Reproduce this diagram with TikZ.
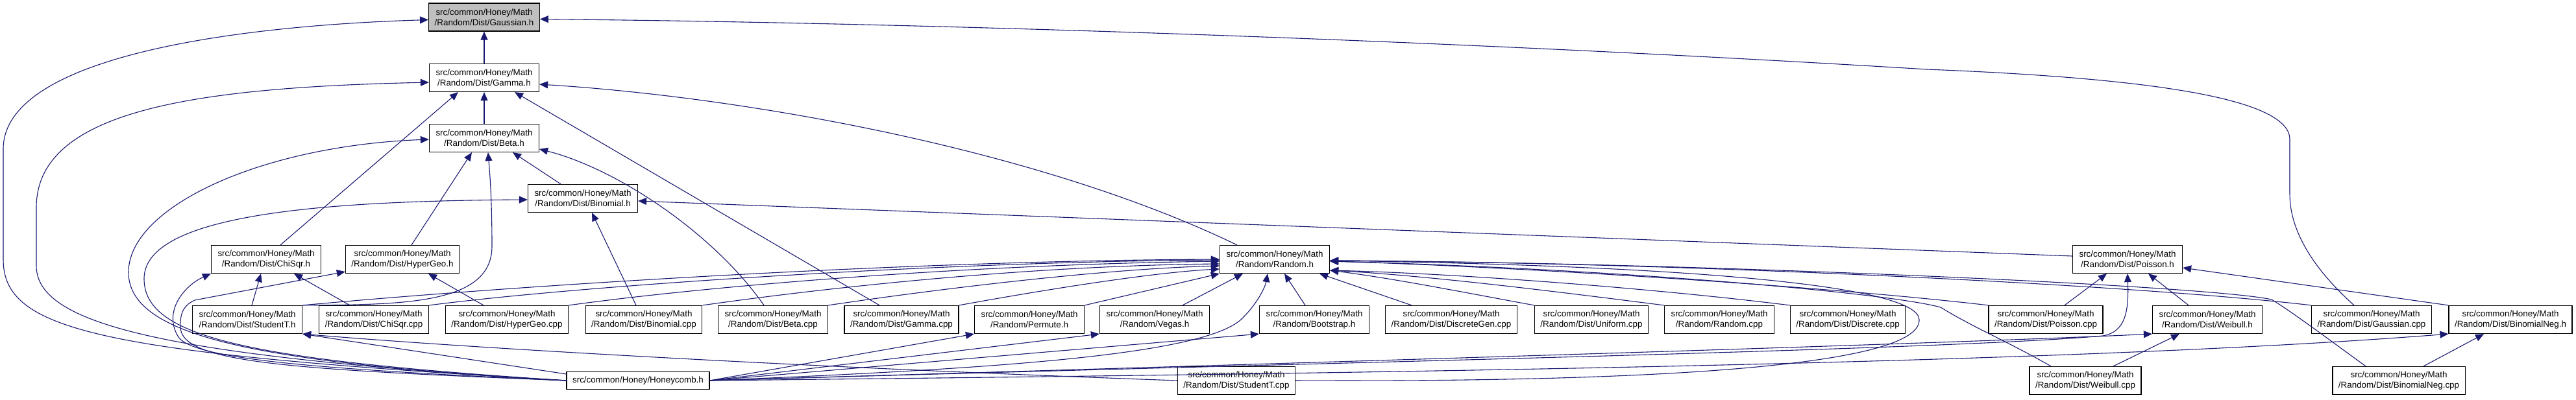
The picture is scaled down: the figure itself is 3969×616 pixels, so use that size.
\documentclass[tikz,border=0pt]{standalone}
\usepackage{fontspec}
\setmainfont{Liberation Sans}
\usetikzlibrary{arrows.meta,calc}
\definecolor{edgeblue}{HTML}{191970}
\definecolor{focusgray}{HTML}{BFBFBF}
\tikzset{
  file/.style={
    rectangle,
    draw=black,
    fill=white,
    line width=1.2pt,
    align=center,
    minimum width=169pt,
    minimum height=43pt,
    inner xsep=9pt,
    inner ysep=2pt,
    font=\fontsize{13.4}{16}\selectfont
  },
  focus/.style={file, fill=focusgray},
  oneline/.style={file, minimum height=27pt},
  incl/.style={-{Triangle[length=13pt,width=11pt]}, line width=1.1pt, draw=edgeblue}
}

\begin{document}
\begin{tikzpicture}[x=1pt,y=-1pt]
  \useasboundingbox (0,0) rectangle (3969,616);
  \node[focus] (gaussh) at (746,26.5) {src/common/Honey/Math\\/Random/Dist/Gaussian.h};
  \node[file] (gammah) at (746,120) {src/common/Honey/Math\\/Random/Dist/Gamma.h};
  \node[file] (betah) at (746,213) {src/common/Honey/Math\\/Random/Dist/Beta.h};
  \node[file] (binomh) at (898,306) {src/common/Honey/Math\\/Random/Dist/Binomial.h};
  \node[file] (chisqrh) at (410,400) {src/common/Honey/Math\\/Random/Dist/ChiSqr.h};
  \node[file] (hypergeoh) at (620,400) {src/common/Honey/Math\\/Random/Dist/HyperGeo.h};
  \node[file] (randomh) at (1964,400) {src/common/Honey/Math\\/Random/Random.h};
  \node[file] (poissonh) at (3278,400) {src/common/Honey/Math\\/Random/Dist/Poisson.h};
  \node[file] (studentth) at (381,493) {src/common/Honey/Math\\/Random/Dist/StudentT.h};
  \node[file] (chisqrcpp) at (576,493) {src/common/Honey/Math\\/Random/Dist/ChiSqr.cpp};
  \node[file] (hypergeocpp) at (781,493) {src/common/Honey/Math\\/Random/Dist/HyperGeo.cpp};
  \node[file] (binomcpp) at (992,493) {src/common/Honey/Math\\/Random/Dist/Binomial.cpp};
  \node[file] (betacpp) at (1191,493) {src/common/Honey/Math\\/Random/Dist/Beta.cpp};
  \node[file] (gammacpp) at (1389,493) {src/common/Honey/Math\\/Random/Dist/Gamma.cpp};
  \node[file] (permuteh) at (1586,493) {src/common/Honey/Math\\/Random/Permute.h};
  \node[file] (vegash) at (1779,493) {src/common/Honey/Math\\/Random/Vegas.h};
  \node[file] (bootstraph) at (2025,493) {src/common/Honey/Math\\/Random/Bootstrap.h};
  \node[file] (discretegencpp) at (2236,493) {src/common/Honey/Math\\/Random/Dist/DiscreteGen.cpp};
  \node[file] (uniformcpp) at (2452,493) {src/common/Honey/Math\\/Random/Dist/Uniform.cpp};
  \node[file] (randomcpp) at (2649,493) {src/common/Honey/Math\\/Random/Random.cpp};
  \node[file] (discretecpp) at (2847,493) {src/common/Honey/Math\\/Random/Dist/Discrete.cpp};
  \node[file] (poissoncpp) at (3152,493) {src/common/Honey/Math\\/Random/Dist/Poisson.cpp};
  \node[file] (weibullh) at (3401,493) {src/common/Honey/Math\\/Random/Dist/Weibull.h};
  \node[file] (gaussiancpp) at (3654,493) {src/common/Honey/Math\\/Random/Dist/Gaussian.cpp};
  \node[file] (binomnegh) at (3868,493) {src/common/Honey/Math\\/Random/Dist/BinomialNeg.h};
  \node[oneline] (honeycomb) at (983,587) {src/common/Honey/Honeycomb.h};
  \node[file] (studenttcpp) at (1905,587) {src/common/Honey/Math\\/Random/Dist/StudentT.cpp};
  \node[file] (weibullcpp) at (3213,587) {src/common/Honey/Math\\/Random/Dist/Weibull.cpp};
  \node[file] (binomnegcpp) at (3696,587) {src/common/Honey/Math\\/Random/Dist/BinomialNeg.cpp};

  \draw[incl] (gammah) -- (gaussh);
  \draw[incl] (honeycomb.west) .. controls (150,545) and (5,510) .. (5,400) -- (5,230) .. controls (5,90) and (350,40) .. ($(gaussh.west)+(0,4)$);
  \draw[incl] ($(gaussiancpp.north)+(-27,0)$) .. controls (3570,420) and (3528,360) .. (3528,300) -- (3528,215) .. controls (3528,150) and (3300,120) .. (2969,107) .. controls (2200,60) and (1400,35) .. ($(gaussh.east)+(0,3)$);
  \draw[incl] (betah) -- (gammah);
  \draw[incl] (honeycomb.west) .. controls (250,550) and (56,500) .. (56,410) -- (56,320) .. controls (56,170) and (300,135) .. ($(gammah.west)+(0,7)$);
  \draw[incl] ($(chisqrh.north)+(22,0)$) -- ($(gammah.south)+(-40,0)$);
  \draw[incl] ($(gammacpp.north)+(-34,0)$) -- ($(gammah.south)+(47,0)$);
  \draw[incl] ($(randomh.north)+(-58,0)$) .. controls (1600,230) and (1150,150) .. ($(gammah.east)+(0,10)$);
  \draw[incl] ($(binomh.north)+(-34,0)$) -- ($(betah.south)+(44,0)$);
  \draw[incl] ($(hypergeoh.north)+(14,0)$) -- ($(betah.south)+(-19,0)$);
  \draw[incl] (studentth.north east) .. controls (620,470) and (758,470) .. (758,380) .. controls (758,300) and (754,260) .. ($(betah.south)+(6,0)$);
  \draw[incl] (honeycomb.west) .. controls (400,560) and (198,520) .. (198,420) .. controls (198,320) and (400,225) .. ($(betah.west)+(0,2)$);
  \draw[incl] ($(betacpp.north)+(-14,0)$) .. controls (1100,360) and (950,260) .. ($(betah.east)+(0,17)$);
  \draw[incl] (honeycomb.west) .. controls (380,555) and (222,520) .. (222,430) .. controls (222,330) and (500,310) .. ($(binomh.west)+(0,2)$);
  \draw[incl] ($(binomcpp.north)+(-12,0)$) -- ($(binomh.south)+(14,0)$);
  \draw[incl] ($(poissonh.west)+(0,-5)$) -- ($(binomh.east)+(0,4)$);
  \draw[incl] (honeycomb.west) .. controls (500,570) and (300,555) .. (275,520) .. controls (250,480) and (285,440) .. (chisqrh.south west);
  \draw[incl] ($(studentth.north)+(7,0)$) -- ($(chisqrh.south)+(-8,0)$);
  \draw[incl] ($(chisqrcpp.north)+(-37,0)$) -- ($(chisqrh.south)+(43,0)$);
  \draw[incl] (honeycomb.west) .. controls (450,570) and (280,560) .. (278,505) .. controls (277,480) and (285,470) .. (300,463) -- ($(hypergeoh.south west)+(0,-3)$);
  \draw[incl] ($(hypergeocpp.north)+(-36,0)$) -- ($(hypergeoh.south)+(40,0)$);
  \draw[incl] (studenttcpp.west) .. controls (1200,565) and (700,535) .. (studentth.south east);
  \draw[incl] ($(honeycomb.west)+(0,-10)$) -- (studentth.south east);
  \draw[incl] (studentth.north east) .. controls (800,440) and (1400,402) .. (randomh.west);
  \draw[incl] (chisqrcpp.north east) .. controls (900,440) and (1450,404) .. ($(randomh.west)+(0,1)$);
  \draw[incl] (hypergeocpp.north east) .. controls (1100,440) and (1500,408) .. ($(randomh.west)+(0,3)$);
  \draw[incl] (binomcpp.north east) .. controls (1300,440) and (1600,410) .. ($(randomh.west)+(0,7)$);
  \draw[incl] (betacpp.north east) .. controls (1450,445) and (1700,415) .. ($(randomh.west)+(0,10)$);
  \draw[incl] (gammacpp.north east) .. controls (1620,445) and (1780,420) .. ($(randomh.west)+(0,15)$);
  \draw[incl] (permuteh.north east) -- (randomh.south west);
  \draw[incl] ($(vegash.north)+(43,0)$) -- ($(randomh.south)+(-49,0)$);
  \draw[incl] (honeycomb.east) .. controls (1500,570) and (1860,550) .. (1915,490) .. controls (1940,465) and (1950,440) .. ($(randomh.south)+(-11,0)$);
  \draw[incl] ($(bootstraph.north)+(-14,0)$) -- ($(randomh.south)+(15,0)$);
  \draw[incl] ($(discretegencpp.north)+(-61,0)$) -- ($(randomh.south east)+(-16,0)$);
  \draw[incl] (uniformcpp.north west) .. controls (2250,450) and (2150,430) .. ($(randomh.east)+(0,17)$);
  \draw[incl] (randomcpp.north west) .. controls (2400,450) and (2200,425) .. ($(randomh.east)+(0,17)$);
  \draw[incl] (discretecpp.north west) .. controls (2550,445) and (2250,422) .. ($(randomh.east)+(0,17)$);
  \draw[incl] (poissoncpp.north west) .. controls (2800,440) and (2300,410) .. ($(randomh.east)+(0,3)$);
  \draw[incl] (gaussiancpp.north west) .. controls (3300,440) and (2600,405) .. ($(randomh.east)+(0,2)$);
  \draw[incl] ($(binomnegcpp.north)+(-51,0)$) .. controls (3590,525) and (3530,480) .. (3500,462) .. controls (3400,440) and (2600,405) .. ($(randomh.east)+(0,2)$);
  \draw[incl] ($(weibullcpp.north)+(-53,0)$) .. controls (3090,525) and (3040,505) .. (2990,474) .. controls (2910,452) and (2500,415) .. ($(randomh.east)+(0,3)$);
  \draw[incl] (studenttcpp.east) .. controls (2600,590) and (2960,560) .. (2957,493) .. controls (2955,440) and (2600,410) .. ($(randomh.east)+(0,2)$);
  \draw[incl] ($(poissoncpp.north)+(29,0)$) -- ($(poissonh.south)+(-32,0)$);
  \draw[incl] ($(weibullh.north)+(-29,0)$) -- ($(poissonh.south)+(32,0)$);
  \draw[incl] (binomnegh.north west) -- ($(poissonh.east)+(0,13)$);
  \draw[incl] (honeycomb.east) .. controls (2000,560) and (3000,540) .. (3240,518) .. controls (3275,512) and (3280,480) .. (poissonh.south);
  \draw[incl] (honeycomb.east) .. controls (2000,560) and (3000,530) .. (weibullh.south west);
  \draw[incl] (honeycomb.east) .. controls (2200,575) and (3200,560) .. (binomnegh.south west);
  \draw[incl] ($(weibullcpp.north)+(43,0)$) -- ($(weibullh.south)+(-43,0)$);
  \draw[incl] ($(binomnegcpp.north)+(38,0)$) -- ($(binomnegh.south)+(-41,0)$);
  \draw[incl] (honeycomb.east) -- (permuteh.south west);
  \draw[incl] (honeycomb.east) -- (vegash.south west);
  \draw[incl] (honeycomb.east) -- (bootstraph.south west);
\end{tikzpicture}
\end{document}
